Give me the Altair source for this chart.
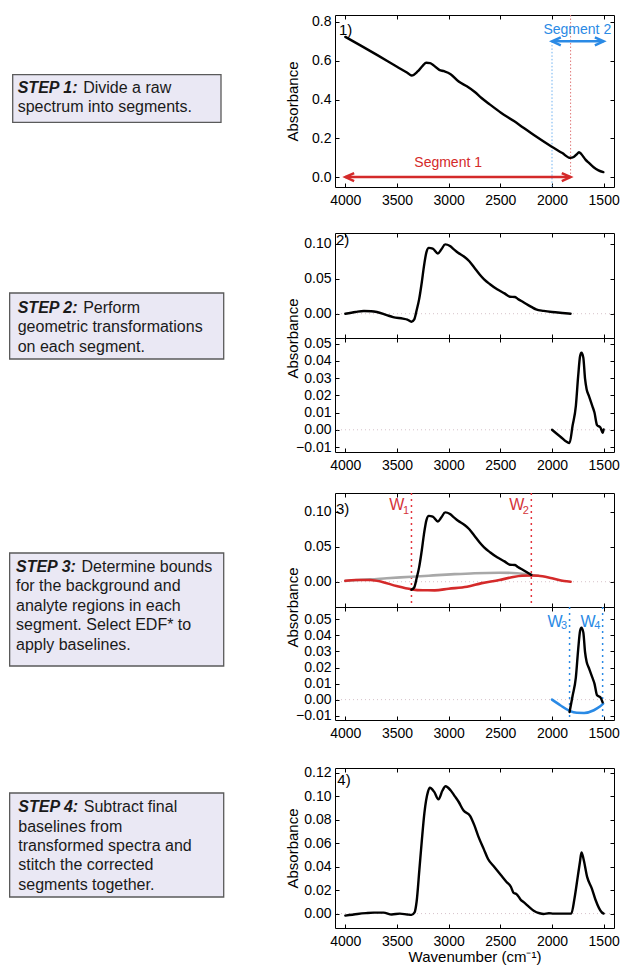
import altair as alt
import pandas as pd

# ---------------- data ----------------
raw_wn = [4000, 3850, 3690, 3500, 3400, 3358, 3300, 3250, 3217, 3180,
          3150, 3091, 3044, 2981, 2903, 2824, 2750, 2682, 2600, 2494,
          2368, 2280, 2179, 2006, 1900, 1824, 1790, 1760, 1739, 1715,
          1676, 1640, 1597, 1550, 1503]
raw_abs = [0.723, 0.678, 0.629, 0.569, 0.538, 0.524, 0.545, 0.575, 0.590, 0.588,
           0.578, 0.553, 0.546, 0.531, 0.493, 0.468, 0.440, 0.408, 0.374, 0.332,
           0.289, 0.256, 0.218, 0.158, 0.124, 0.099, 0.104, 0.118, 0.128, 0.118,
           0.090, 0.072, 0.051, 0.035, 0.026]

seg1_wn = [4000, 3900, 3821, 3750, 3695, 3600, 3538, 3443, 3400, 3360,
           3333, 3310, 3286, 3260, 3239, 3215, 3192, 3154, 3104, 3070,
           3034, 2987, 2950, 2909, 2846, 2800, 2751, 2700, 2657, 2600,
           2531, 2460, 2406, 2375, 2358, 2330, 2280, 2200, 2154, 2080,
           2000, 1900, 1820]
seg1_abs = [0.000, 0.0025, 0.0038, 0.0035, 0.0024, -0.002, -0.0048, -0.0071, -0.0085, -0.0114,
            -0.008, 0.005, 0.0205, 0.045, 0.068, 0.088, 0.094, 0.093, 0.086, 0.092,
            0.099, 0.0967, 0.092, 0.087, 0.081, 0.075, 0.0657, 0.056, 0.049, 0.042,
            0.0348, 0.029, 0.0243, 0.0240, 0.0238, 0.021, 0.0167, 0.0098, 0.0062, 0.004,
            0.0024, 0.001, 0.0]

seg2_wn = [2000, 1921, 1830, 1801, 1769, 1747, 1728, 1715, 1697, 1680,
           1665, 1643, 1611, 1589, 1564, 1532, 1510, 1500]
seg2_abs = [0.0, -0.0039, -0.0077, 0.0023, 0.0139, 0.031, 0.0429, 0.0448, 0.0419, 0.0295,
            0.0236, 0.0197, 0.014, 0.010, 0.0027, 0.0014, -0.0017, 0.0002]

bg_wn = [4000, 3850, 3760, 3600, 3360, 3150, 2979, 2750, 2509, 2380, 2290, 2200, 2134]
bg_abs = [0.001, 0.0028, 0.0034, 0.005, 0.0071, 0.009, 0.0105, 0.0122, 0.0129, 0.0125,
          0.0114, 0.0095, 0.0086]

base1_wn = [4000, 3900, 3760, 3650, 3505, 3360, 3250, 3135, 3000, 2822,
            2680, 2509, 2400, 2290, 2200, 2134, 2000, 1884, 1820]
base1_abs = [0.0014, 0.0025, 0.0024, 0.0, -0.0062, -0.0109, -0.0122, -0.0123, -0.0100, -0.0071,
             -0.002, 0.0024, 0.006, 0.0086, 0.0088, 0.0086, 0.005, 0.001, 0.0]

base2_wn = [2000, 1920, 1830, 1760, 1690, 1595, 1540, 1505]
base2_abs = [0.0, -0.0035, -0.0070, -0.0082, -0.0083, -0.0066, -0.0045, -0.0025]

final_wn = [4000, 3883, 3800, 3725, 3630, 3551, 3472, 3400, 3360, 3330,
            3310, 3283, 3260, 3235, 3200, 3182, 3140, 3099, 3060, 3030,
            2982, 2940, 2904, 2856, 2793, 2750, 2714, 2660, 2619, 2560,
            2493, 2440, 2398, 2370, 2345, 2300, 2271, 2220, 2177, 2120,
            2082, 2030, 1987, 1900, 1813, 1782, 1750, 1730, 1715, 1695,
            1660, 1615, 1580, 1545, 1520, 1500]
final_abs = [-0.0017, -0.0003, 0.0004, 0.0008, 0.0008, -0.0008, 0.0, -0.0008, -0.0011, 0.001,
             0.0103, 0.038, 0.062, 0.0857, 0.104, 0.1074, 0.1038, 0.0974, 0.105, 0.1086,
             0.1052, 0.100, 0.0954, 0.0879, 0.0834, 0.075, 0.0661, 0.055, 0.0466, 0.040,
             0.0327, 0.027, 0.0229, 0.0175, 0.0168, 0.0115, 0.0095, 0.0055, 0.0025, 0.0003,
             -0.0003, 0.0003, 0.0, 0.0, 0.0, 0.0131, 0.032, 0.0438, 0.0522, 0.0466,
             0.0313, 0.0215, 0.012, 0.0047, 0.0012, 0.0]

W1, W2, W3, W4 = 3360, 2200, 1830, 1510
x_ticks = [4000, 3500, 3000, 2500, 2000, 1500]

step_texts = [
    ("STEP 1:", "Divide a raw", ["spectrum into segments."]),
    ("STEP 2:", "Perform", ["geometric transformations", "on each segment."]),
    ("STEP 3:", "Determine bounds", ["for the background and", "analyte regions in each",
                                     "segment. Select EDF* to", "apply baselines."]),
    ("STEP 4:", "Subtract final", ["baselines from", "transformed spectra and",
                                   "stitch the corrected", "segments together."]),
]

# ---------------- style ----------------
FONT = "Liberation Sans"
RED = "#d42a2a"
BLUE = "#2a8ae5"
GRAY = "#a8a8a8"
ZERO = "#d6c2ca"
BOX_FILL = "#eae8f4"
BOX_STROKE = "#5a5a5a"
TXT = "#1a1a1a"
PW = 279
LW = 2.4
XS = alt.Scale(domain=[4100, 1400], nice=False, zero=False)
ONE = pd.DataFrame({"k": [0]})
LEFT_HEAD = "M2.2,-1L0,0L2.2,1"
RIGHT_HEAD = "M-2.2,-1L0,0L-2.2,1"


def df(wn, a):
    return pd.DataFrame({"wn": wn, "a": a})


def ysc(lo, hi):
    return alt.Scale(domain=[lo, hi], nice=False, zero=False)


def X(axis=None, field="wn"):
    return alt.X(f"{field}:Q", scale=XS, axis=axis)


def Y(ys, axis=None, field="a"):
    return alt.Y(f"{field}:Q", scale=ys, axis=axis)


def line(data, ys, color, width=LW, filt=None):
    c = alt.Chart(data).mark_line(color=color, strokeWidth=width, interpolate="monotone",
                                  strokeJoin="round", strokeCap="round")
    if filt is not None:
        c = c.transform_filter(filt)
    return c.encode(x=X(), y=Y(ys), order=alt.Order("wn:Q", sort="descending"))


def zero_line(ys):
    return alt.Chart(pd.DataFrame({"a": [0.0]})).mark_rule(
        color=ZERO, strokeDash=[1, 3], strokeWidth=1).encode(y=Y(ys))


def vlines(vals, color, dash=(2, 4), width=1.5):
    return alt.Chart(pd.DataFrame({"wn": vals})).mark_rule(
        color=color, strokeDash=list(dash), strokeWidth=width).encode(x=X())


def arrow(x0, x1, a, ys, color):
    d = pd.DataFrame({"x0": [x0], "x1": [x1], "a": [a]})
    shaft = alt.Chart(d).mark_rule(color=color, strokeWidth=2.5).encode(
        x=X(field="x0"), x2=alt.X2("x1"), y=Y(ys))
    lh = alt.Chart(pd.DataFrame({"wn": [x0], "a": [a]})).mark_point(
        shape=LEFT_HEAD, size=64, filled=False, color=color, strokeWidth=2.5, opacity=1,
        strokeJoin="miter").encode(x=X(), y=Y(ys))
    rh = alt.Chart(pd.DataFrame({"wn": [x1], "a": [a]})).mark_point(
        shape=RIGHT_HEAD, size=64, filled=False, color=color, strokeWidth=2.5, opacity=1,
        strokeJoin="miter").encode(x=X(), y=Y(ys))
    return [shaft, lh, rh]


def data_text(text, wn, a, ys, color, size=14):
    return alt.Chart(pd.DataFrame({"wn": [wn], "a": [a]})).mark_text(
        text=text, font=FONT, fontSize=size, color=color, align="center",
        baseline="middle").encode(x=X(), y=Y(ys))


def w_labels(vals, subs, color, y_w, y_sub):
    d = pd.DataFrame({"wn": vals, "sub": subs})
    w = alt.Chart(d).mark_text(text="W", font=FONT, fontSize=16, color=color, align="right",
                               baseline="alphabetic", dx=-7).encode(x=X(), y=alt.value(y_w))
    s = alt.Chart(d).mark_text(font=FONT, fontSize=11, color=color, align="left",
                               baseline="alphabetic", dx=-8.5).encode(
        x=X(), y=alt.value(y_sub), text="sub:N")
    return [w, s]


def panel_label(text, x, y):
    return alt.Chart(ONE).mark_text(text=text, font=FONT, fontSize=15, color="black",
                                    align="left", baseline="alphabetic").encode(
        x=alt.value(x), y=alt.value(y))


def step_box(i, x0, x1, y0, y1, tx, ty, lh=19.4):
    step, first, rest = step_texts[i]
    box = alt.Chart(ONE).mark_rect(fill=BOX_FILL, stroke=BOX_STROKE, strokeWidth=1.3).encode(
        x=alt.value(x0), x2=alt.value(x1), y=alt.value(y0), y2=alt.value(y1))
    t1 = alt.Chart(ONE).mark_text(text=step, font=FONT, fontSize=16, fontStyle="italic",
                                  fontWeight="bold", color=TXT, align="left",
                                  baseline="alphabetic").encode(x=alt.value(tx), y=alt.value(ty))
    t2 = alt.Chart(ONE).mark_text(text=first, font=FONT, fontSize=16, color=TXT, align="left",
                                  baseline="alphabetic").encode(x=alt.value(tx + 65.5),
                                                                y=alt.value(ty))
    t3 = alt.Chart(ONE).mark_text(text=rest, font=FONT, fontSize=16, color=TXT, align="left",
                                  baseline="alphabetic", lineHeight=lh).encode(
        x=alt.value(tx), y=alt.value(ty + lh))
    return [box, t1, t2, t3]


def axes(ys, yticks, yfmt, xlabels, ytitle=None, ytitle_y=None, xtitle=None):
    xa = dict(orient="bottom", values=x_ticks, format="d", offset=-4, tickSize=4, domain=False,
              grid=False, tickColor="black", labels=xlabels, labelPadding=6)
    if xtitle:
        xa.update(title=xtitle, titlePadding=1)
    else:
        xa["title"] = None
    ya = dict(orient="left", values=yticks, format=yfmt, offset=-4, tickSize=4, domain=False,
              grid=False, tickColor="black", labelPadding=4)
    if ytitle:
        ya.update(title=ytitle, titleX=-47, titleBaseline="middle", titleAngle=270)
        if ytitle_y is not None:
            ya["titleY"] = ytitle_y
    else:
        ya["title"] = None
    d = pd.DataFrame({"wn": [4000], "a": [0.0]})
    base = alt.Chart(d).mark_point(opacity=0).encode(x=X(alt.Axis(**xa)), y=Y(ys, alt.Axis(**ya)))
    ta = alt.Axis(orient="top", values=x_ticks, offset=-4, tickSize=4, domain=False, grid=False,
                  labels=False, title=None, tickColor="black")
    ra = alt.Axis(orient="right", values=yticks, offset=-4, tickSize=4, domain=False, grid=False,
                  labels=False, title=None, tickColor="black")
    mirror = alt.Chart(d).mark_point(opacity=0).encode(x=X(ta), y=Y(ys, ra))
    return [base, mirror]


def panel(layers, height):
    return alt.layer(*layers).resolve_axis(x="independent", y="independent").properties(
        width=PW, height=height)


def spacer(h):
    return alt.Chart(ONE).mark_point(opacity=0).encode(
        x=alt.value(0), y=alt.value(0)).properties(
        width=PW, height=h, view=alt.ViewBackground(stroke="transparent"))


# box x positions relative to the plot's left edge (plot starts 334px into the page)
BX0, BX1 = -325.35, -111.3

# ---------------- panel 1 ----------------
ys1 = ysc(-0.051, 0.836)
p1_layers = [
    alt.Chart(pd.DataFrame({"wn": [2000], "a": [0.70], "a2": [-0.051]})).mark_rule(
        color="#6fb1f0", strokeDash=[1.5, 2], strokeWidth=1).encode(x=X(), y=Y(ys1), y2=alt.Y2("a2")),
    alt.Chart(pd.DataFrame({"wn": [1820], "a": [0.836], "a2": [0.0]})).mark_rule(
        color="#e07a7a", strokeDash=[1.5, 2], strokeWidth=1).encode(x=X(), y=Y(ys1), y2=alt.Y2("a2")),
    line(df(raw_wn, raw_abs), ys1, "black"),
    *arrow(4000, 1820, 0.0, ys1, RED),
    *arrow(2000, 1500, 0.70, ys1, BLUE),
    data_text("Segment 1", 3005, 0.073, ys1, RED),
    data_text("Segment 2", 1755, 0.759, ys1, BLUE),
    panel_label("1)", 4, 19.5),
    *step_box(0, -322.3, -114, 59.7, 107.3, -317.3, 78.3, lh=18.4),
    *axes(ys1, [0, 0.2, 0.4, 0.6, 0.8], ".1f", True, ytitle="Absorbance"),
]
p1 = panel(p1_layers, 172)

# ---------------- panel 2 ----------------
ys2a = ysc(-0.0347, 0.1153)
p2a = panel([
    zero_line(ys2a),
    line(df(seg1_wn, seg1_abs), ys2a, "black"),
    panel_label("2)", 1, 12),
    *step_box(1, BX0, BX1, 60, 126, -317.3, 80),
    *axes(ys2a, [0, 0.05, 0.10], ".2f", False, ytitle="Absorbance", ytitle_y=105),
], 105)

ys2b = ysc(-0.0129, 0.0533)
p2b = panel([
    zero_line(ys2b),
    line(df(seg2_wn, seg2_abs), ys2b, "black"),
    *axes(ys2b, [-0.01, 0, 0.01, 0.02, 0.03, 0.04, 0.05], ".2f", True),
], 114)

# ---------------- panel 3 ----------------
ys3a = ysc(-0.0361, 0.1267)
p3a = panel([
    zero_line(ys3a),
    vlines([W1, W2], "#e3343c"),
    line(df(bg_wn, bg_abs), ys3a, GRAY, width=2.6),
    line(df(base1_wn, base1_abs), ys3a, RED, width=2.6),
    line(df(seg1_wn, seg1_abs), ys3a, "black",
         filt=(alt.datum.wn <= W1) & (alt.datum.wn >= W2)),
    *w_labels([W1, W2], ["1", "2"], "#d4343a", 17, 20.5),
    panel_label("3)", 1, 21),
    *step_box(2, BX0, BX1, 60, 173, -319, 79),
    *axes(ys3a, [0, 0.05, 0.10], ".2f", False, ytitle="Absorbance", ytitle_y=114),
], 114)

ys3b = ysc(-0.0127, 0.0577)
p3b = panel([
    zero_line(ys3b),
    vlines([W3, W4], BLUE),
    line(df(base2_wn, base2_abs), ys3b, BLUE, width=2.6),
    line(df(seg2_wn, seg2_abs), ys3b, "black",
         filt=(alt.datum.wn <= W3) & (alt.datum.wn >= W4)),
    *w_labels([W3, W4], ["3", "4"], BLUE, 19.7, 22),
    *axes(ys3b, [-0.01, 0, 0.01, 0.02, 0.03, 0.04, 0.05], ".2f", True),
], 113)

# ---------------- panel 4 ----------------
ys4 = ysc(-0.0123, 0.1242)
p4 = panel([
    zero_line(ys4),
    line(df(final_wn, final_abs), ys4, "black"),
    panel_label("4)", 2.3, 16.5),
    *step_box(3, BX0, BX1, 25, 129, -316.7, 44.3),
    *axes(ys4, [0, 0.02, 0.04, 0.06, 0.08, 0.10, 0.12], ".2f", True,
          ytitle="Absorbance", xtitle="Wavenumber (cm\u207b\u00b9)"),
], 160)

chart = alt.vconcat(
    p1, spacer(46), p2a, p2b, spacer(41), p3a, p3b, spacer(48), p4,
    spacing=0, bounds="flush",
).properties(
    padding={"left": 0, "top": 6, "right": 0, "bottom": 0},
    background="white",
).configure_view(
    stroke="black", strokeWidth=1,
).configure_axis(
    labelFont=FONT, labelFontSize=14, labelColor="black",
    titleFont=FONT, titleFontSize=15, titleFontWeight="normal", titleColor="black",
    tickColor="black",
).configure_text(font=FONT)

chart.save("out.html", embed_options={"renderer": "svg", "actions": False})
